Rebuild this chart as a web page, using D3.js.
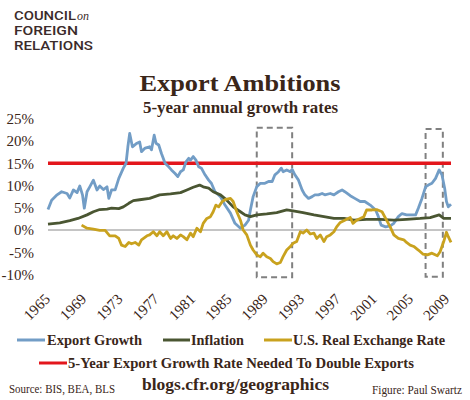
<!DOCTYPE html>
<html>
<head>
<meta charset="utf-8">
<script src="https://cdnjs.cloudflare.com/ajax/libs/d3/7.8.5/d3.min.js"></script>
<style>
  body { margin: 0; background: #fff; }
  svg text { font-family: "Liberation Serif", "Times New Roman", serif; fill: #3a2619; }
</style>
</head>
<body>
<div id="chart"></div>
<script>
// [year, % growth]
var exportGrowth = [
  [1965.0,4.6],[1965.4,6.7],[1966.0,7.9],[1966.5,8.6],[1967.1,8.2],[1967.4,7.2],[1967.8,9.0],
  [1968.2,8.4],[1968.5,9.9],[1968.8,7.9],[1969.0,4.9],[1969.3,8.6],[1969.6,9.7],[1970.0,11.2],
  [1970.4,9.0],[1970.7,9.9],[1971.1,9.1],[1971.5,9.7],[1971.7,7.1],[1972.0,9.0],[1972.4,9.0],
  [1972.8,11.6],[1973.3,13.9],[1973.6,15.0],[1973.8,18.7],[1974.0,21.7],[1974.3,18.7],[1974.8,19.5],
  [1975.1,19.8],[1975.3,17.6],[1975.7,18.4],[1976.2,18.7],[1976.4,18.0],[1976.7,21.3],[1976.9,19.5],
  [1977.2,19.1],[1977.5,17.2],[1977.9,15.0],[1978.3,14.2],[1978.6,13.5],[1979.0,12.7],[1979.3,12.0],
  [1979.6,13.1],[1979.9,13.5],[1980.2,15.3],[1980.5,16.1],[1980.7,15.7],[1981.0,16.5],[1981.3,15.7],
  [1981.6,14.2],[1981.9,13.9],[1982.3,12.4],[1982.7,11.2],[1983.0,10.5],[1983.4,8.6],[1984.0,7.5],
  [1984.5,5.6],[1985.1,3.8],[1985.6,1.5],[1986.2,0.4],[1986.7,1.1],[1987.1,2.2],[1987.3,4.5],
  [1987.6,7.5],[1988.0,9.7],[1988.4,10.5],[1988.9,10.5],[1989.3,10.9],[1989.7,10.9],[1990.0,12.4],
  [1990.4,13.1],[1990.7,13.9],[1990.9,13.1],[1991.3,13.5],[1991.7,13.1],[1991.9,13.6],[1992.2,12.4],
  [1992.6,11.2],[1993.0,9.0],[1993.3,7.9],[1993.7,7.1],[1994.1,7.5],[1994.4,7.9],[1994.8,7.9],
  [1995.2,8.2],[1995.5,7.9],[1996.1,8.2],[1996.5,7.9],[1997.0,8.6],[1997.4,9.0],[1997.7,8.6],
  [1998.3,7.7],[1998.8,7.1],[1999.4,6.4],[1999.9,6.4],[2000.5,5.6],[2001.1,4.5],[2001.4,3.0],
  [2001.7,1.1],[2002.2,0.7],[2002.7,0.9],[2003.1,1.5],[2003.6,3.0],[2004.0,3.7],[2004.5,3.4],
  [2005.1,3.4],[2005.5,3.4],[2005.8,4.9],[2006.2,7.1],[2006.6,9.7],[2006.9,10.1],[2007.3,10.5],
  [2007.7,11.6],[2008.1,13.5],[2008.4,12.4],[2008.7,9.4],[2008.9,6.4],[2009.1,5.2],[2009.4,5.8]
];

var inflation = [
  [1965.0,1.3],[1966.3,1.6],[1967.4,2.1],[1968.3,2.6],[1969.3,3.4],[1970.0,4.1],[1970.7,4.6],
  [1971.5,4.7],[1972.0,4.9],[1972.8,4.8],[1973.3,5.2],[1973.9,6.0],[1974.4,6.6],[1975.1,6.8],
  [1976.2,7.1],[1977.3,7.9],[1978.5,8.1],[1979.6,8.4],[1980.3,9.0],[1981.0,9.6],[1981.7,10.1],
  [1982.1,9.7],[1982.7,9.4],[1983.2,8.6],[1984.0,7.9],[1984.7,6.7],[1985.4,5.2],[1986.2,4.1],
  [1986.7,3.4],[1987.3,3.0],[1988.0,3.4],[1989.1,3.6],[1990.2,3.9],[1991.3,4.5],[1992.0,4.3],
  [1993.1,3.9],[1994.3,3.4],[1995.4,3.0],[1996.5,2.6],[1997.6,2.6],[1998.7,2.2],[2000.1,2.4],
  [2001.6,2.4],[2003.1,2.2],[2004.5,2.4],[2006.0,2.6],[2007.1,2.8],[2008.1,3.4],[2008.6,2.6],
  [2009.4,2.6]
];

var exchangeRate = [
  [1968.7,1.1],[1969.3,0.4],[1970.0,0.2],[1970.7,-0.1],[1971.3,-0.1],[1971.8,-1.3],[1972.4,-1.3],
  [1972.8,-1.9],[1973.1,-3.4],[1973.5,-3.7],[1973.9,-2.8],[1974.2,-3.1],[1974.6,-2.8],[1975.0,-3.4],
  [1975.3,-2.2],[1975.9,-1.3],[1976.2,-1.1],[1976.6,-0.4],[1977.0,-1.3],[1977.3,-0.4],[1977.7,-1.3],
  [1978.1,-0.4],[1978.5,-1.9],[1978.8,-1.3],[1979.2,-1.9],[1979.6,-1.1],[1979.9,-1.5],[1980.3,-2.2],
  [1980.7,-0.7],[1981.0,-1.5],[1981.4,0.4],[1981.8,-0.4],[1982.1,1.5],[1982.5,2.6],[1982.9,3.0],
  [1983.2,4.1],[1983.5,5.6],[1983.8,5.2],[1984.2,6.4],[1984.6,6.9],[1985.1,7.1],[1985.4,6.4],
  [1985.8,4.1],[1986.2,2.2],[1986.5,0.0],[1986.9,-1.1],[1987.3,-3.4],[1987.6,-4.5],[1988.0,-5.6],
  [1988.4,-6.0],[1988.7,-5.2],[1989.1,-6.0],[1989.5,-6.4],[1989.8,-7.1],[1990.2,-7.6],[1990.6,-7.3],
  [1990.9,-6.0],[1991.3,-4.5],[1991.7,-3.7],[1992.0,-3.0],[1992.4,-2.6],[1992.8,-0.4],[1993.1,-0.7],
  [1993.5,0.0],[1993.9,-0.9],[1994.3,-0.7],[1994.6,-1.9],[1995.0,-1.1],[1995.4,-2.6],[1995.7,-1.5],
  [1996.1,-1.1],[1996.5,-0.4],[1996.8,0.7],[1997.2,1.7],[1997.7,2.2],[1998.3,2.8],[1998.6,1.5],
  [1999.0,2.2],[1999.4,2.6],[1999.8,3.0],[2000.1,4.5],[2000.7,4.5],[2001.2,4.6],[2001.8,4.1],
  [2002.3,2.2],[2002.7,0.7],[2003.1,-1.1],[2003.6,-1.9],[2004.2,-2.2],[2004.5,-2.8],[2004.9,-3.4],
  [2005.3,-3.7],[2005.8,-4.5],[2006.3,-5.4],[2006.8,-5.6],[2007.3,-5.2],[2007.9,-5.8],[2008.2,-4.9],
  [2008.6,-2.6],[2008.9,-0.5],[2009.1,-1.5],[2009.4,-2.8]
];

var doublingTarget = 15;
var yTicks = [-10, -5, 0, 5, 10, 15, 20, 25];
var xTickYears = [1965, 1969, 1973, 1977, 1981, 1985, 1989, 1993, 1997, 2001, 2005, 2009];
// highlighted periods: [start, end, top %, bottom %]
var boxes = [[1988.0, 1991.9, 23, -10.6], [2006.6, 2008.5, 22.7, -10.5]];

var colours = {
  "Export Growth": "#729dc6",
  "Inflation": "#4a5632",
  "U.S. Real Exchange Rate": "#c9a21e",
  target: "#e3161c"
};

var width = 470, height = 400;

var svg = d3.select("#chart").append("svg")
    .attr("width", width)
    .attr("height", height);

var x = d3.scaleLinear().domain([1965, 2009.4]).range([48, 451]);
var y = d3.scaleLinear().domain([-10, 25]).range([274.5, 118.75]);

// logo
var logo = svg.append("g").attr("class", "logo");
[["COUNCIL", 19.5, 62], ["FOREIGN", 34.5, 64], ["RELATIONS", 49.5, 79]].forEach(function(l) {
  logo.append("text").attr("x", 14).attr("y", l[1]).attr("textLength", l[2])
    .attr("lengthAdjust", "spacingAndGlyphs")
    .style("font-family", "Roboto, 'Liberation Sans', sans-serif")
    .style("font-size", "12.5px").style("font-weight", "500")
    .style("fill", "#3b2b2b").text(l[0]);
});
logo.append("text").attr("x", 77).attr("y", 19.5)
  .style("font-style", "italic").style("font-size", "12px")
  .style("fill", "#3b2b2b").text("on");

// titles
svg.append("text").attr("x", 240).attr("y", 91).attr("text-anchor", "middle")
  .attr("textLength", 201).attr("lengthAdjust", "spacingAndGlyphs")
  .style("font-size", "24px").style("font-weight", "bold").text("Export Ambitions");
svg.append("text").attr("x", 240.5).attr("y", 113).attr("text-anchor", "middle")
  .attr("textLength", 195).attr("lengthAdjust", "spacingAndGlyphs")
  .style("font-size", "16px").style("font-weight", "bold").text("5-year annual growth rates");

// y labels
svg.append("g").selectAll("text")
  .data(yTicks)
  .enter().append("text")
    .attr("x", 34)
    .attr("y", function(d) { return y(d); })
    .attr("dy", "0.35em")
    .attr("text-anchor", "end")
    .style("font-size", "15px")
    .text(function(d) { return d + "%"; });

// x labels, rotated
svg.append("g").selectAll("text")
  .data(xTickYears)
  .enter().append("text")
    .attr("text-anchor", "end")
    .attr("transform", function(d) { return "translate(" + (x(d) + 3) + ",300) rotate(-45)"; })
    .style("font-size", "15px")
    .text(function(d) { return d; });

// zero line
svg.append("line")
  .attr("x1", x(1965)).attr("x2", x(2009.4))
  .attr("y1", y(0)).attr("y2", y(0))
  .attr("stroke", "#8a8a8a").attr("stroke-width", 1);

// dashed boxes
svg.append("g").selectAll("rect")
  .data(boxes)
  .enter().append("rect")
    .attr("x", function(d) { return x(d[0]); })
    .attr("y", function(d) { return y(d[2]); })
    .attr("width", function(d) { return x(d[1]) - x(d[0]); })
    .attr("height", function(d) { return y(d[3]) - y(d[2]); })
    .attr("fill", "none")
    .attr("stroke", "#808080")
    .attr("stroke-width", 2)
    .attr("stroke-dasharray", "6,4");

// target line
svg.append("line")
  .attr("x1", x(1965)).attr("x2", x(2009.4))
  .attr("y1", y(doublingTarget)).attr("y2", y(doublingTarget))
  .attr("stroke", colours.target).attr("stroke-width", 3.5);

var line = d3.line()
  .x(function(d) { return x(d[0]); })
  .y(function(d) { return y(d[1]); });

[[exportGrowth, "Export Growth"], [inflation, "Inflation"], [exchangeRate, "U.S. Real Exchange Rate"]]
  .forEach(function(s) {
    svg.append("path")
      .datum(s[0])
      .attr("d", line)
      .attr("fill", "none")
      .attr("stroke", colours[s[1]])
      .attr("stroke-width", 2.8)
      .attr("stroke-linejoin", "round");
  });

// legend
var legendItems = [
  {name: "Export Growth", x1: 17, x2: 45, tx: 47, tw: 95, y: 340},
  {name: "Inflation", x1: 163, x2: 190, tx: 191, tw: 53, y: 340},
  {name: "U.S. Real Exchange Rate", x1: 264, x2: 292, tx: 293, tw: 152, y: 340},
  {name: "5-Year Export Growth Rate Needed To Double Exports", key: "target", x1: 39, x2: 67, tx: 68, tw: 346, y: 363}
];
var legend = svg.append("g").attr("class", "legend");
legendItems.forEach(function(d) {
  legend.append("line")
    .attr("x1", d.x1).attr("x2", d.x2).attr("y1", d.y).attr("y2", d.y)
    .attr("stroke", colours[d.key || d.name]).attr("stroke-width", 3);
  legend.append("text")
    .attr("x", d.tx).attr("y", d.y + 4.5)
    .attr("textLength", d.tw).attr("lengthAdjust", "spacingAndGlyphs")
    .style("font-size", "14.5px").style("font-weight", "bold")
    .text(d.name);
});

// footer
svg.append("text").attr("x", 9).attr("y", 393).attr("textLength", 106)
  .attr("lengthAdjust", "spacingAndGlyphs").style("font-size", "11.5px")
  .text("Source: BIS, BEA, BLS");
svg.append("text").attr("x", 142).attr("y", 390).attr("textLength", 187)
  .attr("lengthAdjust", "spacingAndGlyphs").style("font-size", "17px").style("font-weight", "bold")
  .text("blogs.cfr.org/geographics");
svg.append("text").attr("x", 372).attr("y", 394).attr("textLength", 90)
  .attr("lengthAdjust", "spacingAndGlyphs").style("font-size", "11.5px")
  .text("Figure: Paul Swartz");
</script>
</body>
</html>
